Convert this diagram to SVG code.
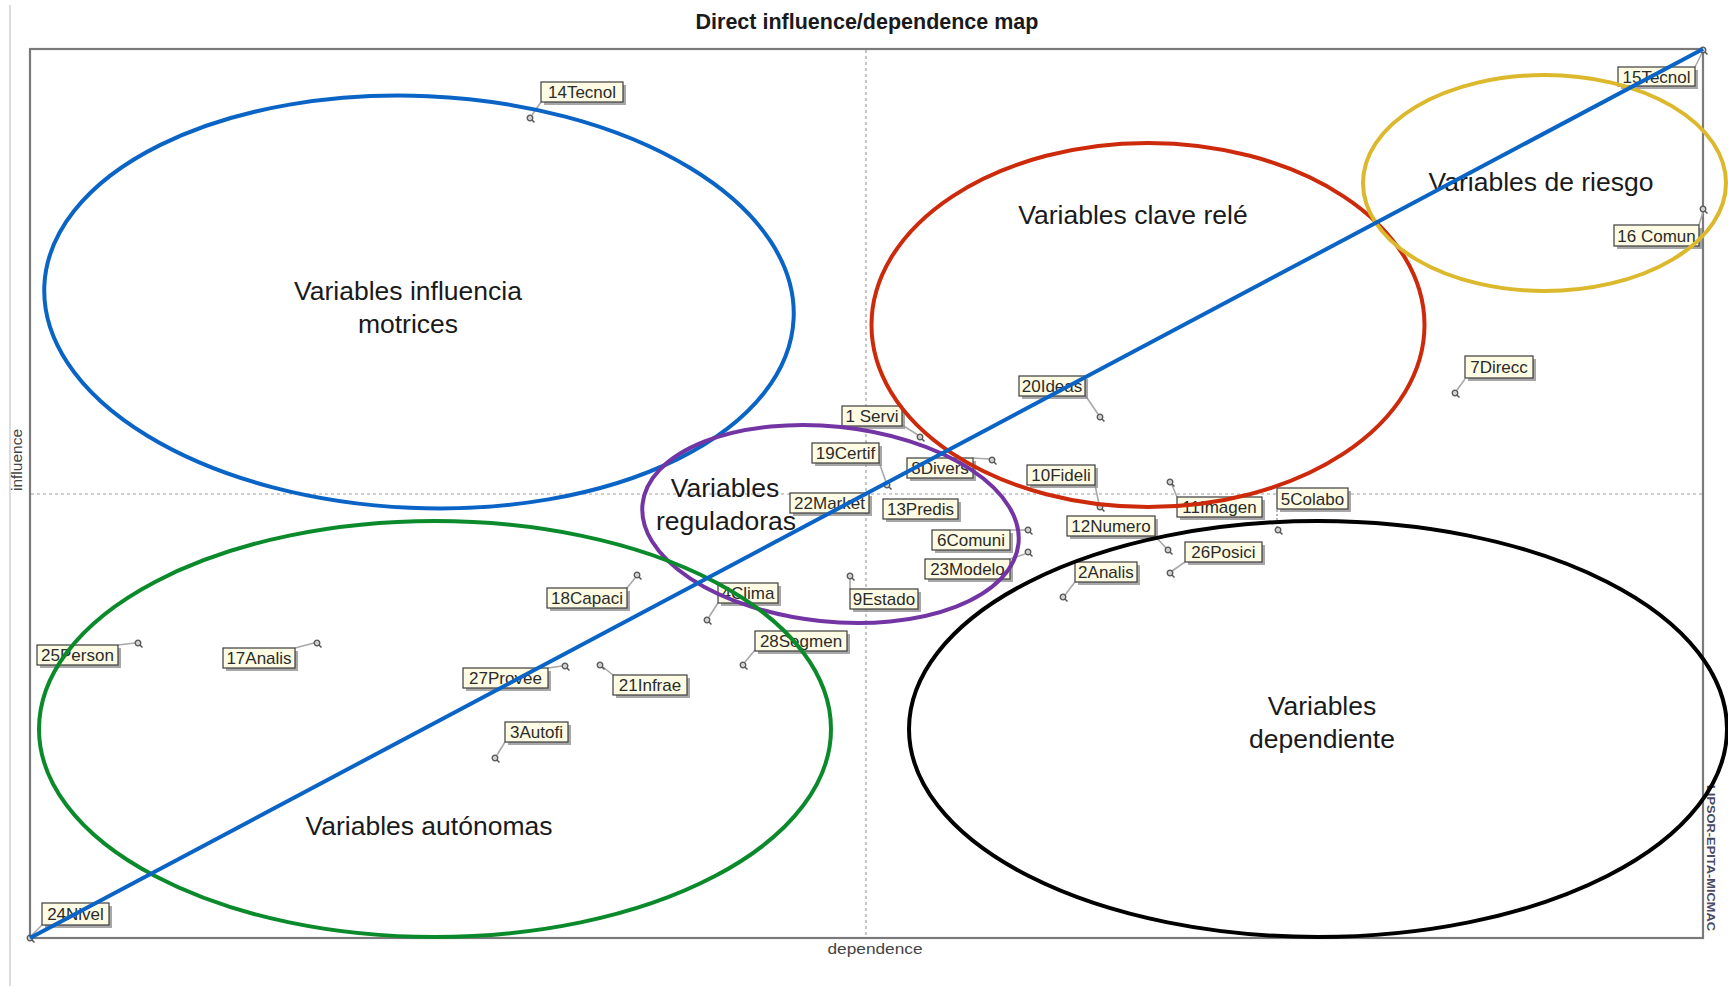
<svg xmlns="http://www.w3.org/2000/svg" xmlns:xlink="http://www.w3.org/1999/xlink" width="1728" height="986" viewBox="0 0 1728 986">
<style>
.ttl{font-family:"Liberation Sans",Arial,sans-serif;font-weight:bold;font-size:21.5px;fill:#1a1a1a}
.ax{font-family:"Liberation Sans",Arial,sans-serif;font-size:14px;fill:#444}
.side{font-family:"Liberation Sans",Arial,sans-serif;font-weight:bold;font-size:11px;fill:#4a4a66}
.frame{fill:none;stroke:#7a7a7a;stroke-width:2.2}
.dash{stroke:#a0a0a0;stroke-width:1.2;stroke-dasharray:3 3;fill:none}
.sh{fill:#8a8a8a;opacity:.75}
.lb{fill:#fdfbe4;stroke:#3c3c3c;stroke-width:1.2}
.lt{font-family:"Liberation Sans",Arial,sans-serif;font-size:17px;fill:#2b2b2b;text-anchor:middle}
.ld{stroke:#a8a8a8;stroke-width:1.6;fill:none}
.zone{fill:none;stroke-width:4}
.zt{font-family:"Liberation Sans",Arial,sans-serif;font-size:26.5px;fill:#1a1a1a;text-anchor:middle}
</style>
<defs>
<g id="pt"><circle cx="0" cy="0" r="2.8" fill="#d0d0d0" stroke="#555" stroke-width="1.3"/><line x1="2" y1="2" x2="4.5" y2="4.5" stroke="#555" stroke-width="1.5"/></g>
</defs>
<rect x="0" y="0" width="1728" height="986" fill="#ffffff"/>
<line x1="10" y1="5" x2="10" y2="986" stroke="#dcdcdc" stroke-width="2"/>
<text class="ttl" x="867" y="29" text-anchor="middle">Direct influence/dependence map</text>
<rect class="frame" x="30" y="49" width="1673" height="889"/>
<line class="dash" x1="866" y1="50" x2="866" y2="937"/>
<line class="dash" x1="31" y1="494" x2="1702" y2="494"/>
<text class="ax" x="875" y="954" text-anchor="middle" textLength="95" lengthAdjust="spacingAndGlyphs">dependence</text>
<text class="ax" transform="translate(22,460) rotate(-90)" text-anchor="middle" font-size="12" textLength="62" lengthAdjust="spacingAndGlyphs">influence</text>
<text class="side" transform="translate(1707,858) rotate(90)" text-anchor="middle" textLength="146" lengthAdjust="spacingAndGlyphs">LIPSOR-EPITA-MICMAC</text>

<g id="connectors">
<line class="ld" x1="541" y1="102" x2="532" y2="115"/><use xlink:href="#pt" x="530" y="118"/>
<line class="ld" x1="1695" y1="67" x2="1702" y2="53"/><use xlink:href="#pt" x="1703" y="50"/>
<line class="ld" x1="1699" y1="225" x2="1703" y2="212"/><use xlink:href="#pt" x="1703" y="209"/>
<line class="ld" x1="1465" y1="379" x2="1457" y2="390"/><use xlink:href="#pt" x="1455" y="393"/>
<line class="ld" x1="1277" y1="510" x2="1277" y2="527" stroke-dasharray="2 2"/><use xlink:href="#pt" x="1278" y="530"/>
<line class="ld" x1="1085" y1="395" x2="1098" y2="414"/><use xlink:href="#pt" x="1100" y="417"/>
<line class="ld" x1="902" y1="425" x2="918" y2="435"/><use xlink:href="#pt" x="920" y="437"/>
<line class="ld" x1="879" y1="462" x2="886" y2="482"/><use xlink:href="#pt" x="887" y="485"/>
<line class="ld" x1="973" y1="458" x2="989" y2="459"/><use xlink:href="#pt" x="992" y="460"/>
<line class="ld" x1="1095" y1="485" x2="1099" y2="504"/><use xlink:href="#pt" x="1100" y="507"/>
<line class="ld" x1="1010" y1="530" x2="1025" y2="530"/><use xlink:href="#pt" x="1028" y="530"/>
<line class="ld" x1="1010" y1="559" x2="1025" y2="554"/><use xlink:href="#pt" x="1028" y="552"/>
<line class="ld" x1="850" y1="589" x2="850" y2="579"/><use xlink:href="#pt" x="850" y="576"/>
<line class="ld" x1="1155" y1="536" x2="1166" y2="548"/><use xlink:href="#pt" x="1168" y="550"/>
<line class="ld" x1="1177" y1="497" x2="1172" y2="485"/><use xlink:href="#pt" x="1170" y="482"/>
<line class="ld" x1="1185" y1="562" x2="1172" y2="571"/><use xlink:href="#pt" x="1170" y="573"/>
<line class="ld" x1="1075" y1="582" x2="1065" y2="595"/><use xlink:href="#pt" x="1063" y="597"/>
<line class="ld" x1="118" y1="645" x2="135" y2="643"/><use xlink:href="#pt" x="138" y="643"/>
<line class="ld" x1="295" y1="648" x2="314" y2="643"/><use xlink:href="#pt" x="317" y="643"/>
<line class="ld" x1="627" y1="588" x2="635" y2="578"/><use xlink:href="#pt" x="637" y="575"/>
<line class="ld" x1="718" y1="603" x2="709" y2="617"/><use xlink:href="#pt" x="707" y="620"/>
<line class="ld" x1="755" y1="650" x2="745" y2="662"/><use xlink:href="#pt" x="743" y="665"/>
<line class="ld" x1="548" y1="668" x2="562" y2="666"/><use xlink:href="#pt" x="565" y="666"/>
<line class="ld" x1="613" y1="675" x2="603" y2="667"/><use xlink:href="#pt" x="600" y="665"/>
<line class="ld" x1="505" y1="742" x2="497" y2="755"/><use xlink:href="#pt" x="495" y="758"/>
<line class="ld" x1="42" y1="925" x2="32" y2="935"/><use xlink:href="#pt" x="30" y="938"/>
</g>

<g id="v14" transform="translate(541,82)"><rect class="sh" x="3" y="3" width="82" height="20"/><rect class="lb" width="82" height="20"/><text class="lt" x="41" y="16">14Tecnol</text></g>
<g id="v15" transform="translate(1618,67)"><rect class="sh" x="3" y="3" width="77" height="19"/><rect class="lb" width="77" height="19"/><text class="lt" x="38.5" y="15.5">15Tecnol</text></g>
<g id="v16" transform="translate(1614,225)"><rect class="sh" x="3" y="3" width="85" height="21"/><rect class="lb" width="85" height="21"/><text class="lt" x="42.5" y="16.5">16 Comun</text></g>
<g id="v7" transform="translate(1465,356)"><rect class="sh" x="3" y="3" width="68" height="22"/><rect class="lb" width="68" height="22"/><text class="lt" x="34" y="17">7Direcc</text></g>
<g id="v5" transform="translate(1277,488)"><rect class="sh" x="3" y="3" width="71" height="21"/><rect class="lb" width="71" height="21"/><text class="lt" x="35.5" y="16.5">5Colabo</text></g>
<g id="v20" transform="translate(1019,376)"><rect class="sh" x="3" y="3" width="66" height="20"/><rect class="lb" width="66" height="20"/><text class="lt" x="33" y="16">20Ideas</text></g>
<g id="v1" transform="translate(842,406)"><rect class="sh" x="3" y="3" width="60" height="20"/><rect class="lb" width="60" height="20"/><text class="lt" x="30" y="16">1 Servi</text></g>
<g id="v19" transform="translate(812,443)"><rect class="sh" x="3" y="3" width="67" height="20"/><rect class="lb" width="67" height="20"/><text class="lt" x="33.5" y="16">19Certif</text></g>
<g id="v8" transform="translate(907,458)"><rect class="sh" x="3" y="3" width="66" height="20"/><rect class="lb" width="66" height="20"/><text class="lt" x="33" y="16">8Divers</text></g>
<g id="v10" transform="translate(1027,465)"><rect class="sh" x="3" y="3" width="68" height="20"/><rect class="lb" width="68" height="20"/><text class="lt" x="34" y="16">10Fideli</text></g>
<g id="v22" transform="translate(790,493)"><rect class="sh" x="3" y="3" width="79" height="20"/><rect class="lb" width="79" height="20"/><text class="lt" x="39.5" y="16">22Market</text></g>
<g id="v13" transform="translate(883,499)"><rect class="sh" x="3" y="3" width="75" height="20"/><rect class="lb" width="75" height="20"/><text class="lt" x="37.5" y="16">13Predis</text></g>
<g id="v6" transform="translate(932,530)"><rect class="sh" x="3" y="3" width="78" height="20"/><rect class="lb" width="78" height="20"/><text class="lt" x="39" y="16">6Comuni</text></g>
<g id="v23" transform="translate(925,559)"><rect class="sh" x="3" y="3" width="85" height="20"/><rect class="lb" width="85" height="20"/><text class="lt" x="42.5" y="16">23Modelo</text></g>
<g id="v9" transform="translate(850,589)"><rect class="sh" x="3" y="3" width="68" height="20"/><rect class="lb" width="68" height="20"/><text class="lt" x="34" y="16">9Estado</text></g>
<g id="v12" transform="translate(1067,516)"><rect class="sh" x="3" y="3" width="88" height="20"/><rect class="lb" width="88" height="20"/><text class="lt" x="44" y="16">12Numero</text></g>
<g id="v11" transform="translate(1177,497)"><rect class="sh" x="3" y="3" width="85" height="20"/><rect class="lb" width="85" height="20"/><text class="lt" x="42.5" y="16">11Imagen</text></g>
<g id="v26" transform="translate(1185,542)"><rect class="sh" x="3" y="3" width="77" height="20"/><rect class="lb" width="77" height="20"/><text class="lt" x="38.5" y="16">26Posici</text></g>
<g id="v2" transform="translate(1075,562)"><rect class="sh" x="3" y="3" width="62" height="20"/><rect class="lb" width="62" height="20"/><text class="lt" x="31" y="16">2Analis</text></g>
<g id="v25" transform="translate(37,645)"><rect class="sh" x="3" y="3" width="81" height="20"/><rect class="lb" width="81" height="20"/><text class="lt" x="40.5" y="16">25Person</text></g>
<g id="v17" transform="translate(223,648)"><rect class="sh" x="3" y="3" width="72" height="20"/><rect class="lb" width="72" height="20"/><text class="lt" x="36" y="16">17Analis</text></g>
<g id="v18" transform="translate(547,588)"><rect class="sh" x="3" y="3" width="80" height="20"/><rect class="lb" width="80" height="20"/><text class="lt" x="40" y="16">18Capaci</text></g>
<g id="v4" transform="translate(718,583)"><rect class="sh" x="3" y="3" width="60" height="20"/><rect class="lb" width="60" height="20"/><text class="lt" x="30" y="16">4Clima</text></g>
<g id="v28" transform="translate(755,631)"><rect class="sh" x="3" y="3" width="92" height="20"/><rect class="lb" width="92" height="20"/><text class="lt" x="46" y="16">28Segmen</text></g>
<g id="v27" transform="translate(463,668)"><rect class="sh" x="3" y="3" width="85" height="20"/><rect class="lb" width="85" height="20"/><text class="lt" x="42.5" y="16">27Provee</text></g>
<g id="v21" transform="translate(613,675)"><rect class="sh" x="3" y="3" width="74" height="20"/><rect class="lb" width="74" height="20"/><text class="lt" x="37" y="16">21Infrae</text></g>
<g id="v3" transform="translate(505,722)"><rect class="sh" x="3" y="3" width="63" height="20"/><rect class="lb" width="63" height="20"/><text class="lt" x="31.5" y="16">3Autofi</text></g>
<g id="v24" transform="translate(42,903)"><rect class="sh" x="3" y="3" width="67" height="22"/><rect class="lb" width="67" height="22"/><text class="lt" x="33.5" y="17">24Nivel</text></g>

<g id="zone-motrices">
<ellipse class="zone" cx="419" cy="302" rx="375" ry="206" transform="rotate(2.5 419 302)" stroke="#0a64c6"/>
<text class="zt" x="408" y="300">Variables influencia</text>
<text class="zt" x="408" y="333">motrices</text>
</g>
<g id="zone-clave">
<ellipse class="zone" cx="1148" cy="325" rx="276.5" ry="182" stroke="#cc2a0a"/>
<text class="zt" x="1133" y="224">Variables clave relé</text>
</g>
<g id="zone-riesgo">
<ellipse class="zone" cx="1544.5" cy="183" rx="181.5" ry="108" stroke="#dcb82c"/>
<text class="zt" x="1541" y="191">Variables de riesgo</text>
</g>
<g id="zone-reguladoras">
<ellipse class="zone" cx="830.5" cy="524" rx="189" ry="97.5" transform="rotate(6 830.5 524)" stroke="#7334a4"/>
<text class="zt" x="725" y="497">Variables</text>
<text class="zt" x="726" y="530">reguladoras</text>
</g>
<g id="zone-autonomas">
<ellipse class="zone" cx="435" cy="729" rx="396" ry="208" stroke="#0b8a2c"/>
<text class="zt" x="429" y="835">Variables autónomas</text>
</g>
<g id="zone-dependiente">
<ellipse class="zone" cx="1318" cy="729" rx="409" ry="208" stroke="#000000"/>
<text class="zt" x="1322" y="715">Variables</text>
<text class="zt" x="1322" y="748">dependiente</text>
</g>
<g id="diagonal">
<line x1="30" y1="938" x2="1703" y2="49" stroke="#0a64c6" stroke-width="4"/>
</g>
</svg>
